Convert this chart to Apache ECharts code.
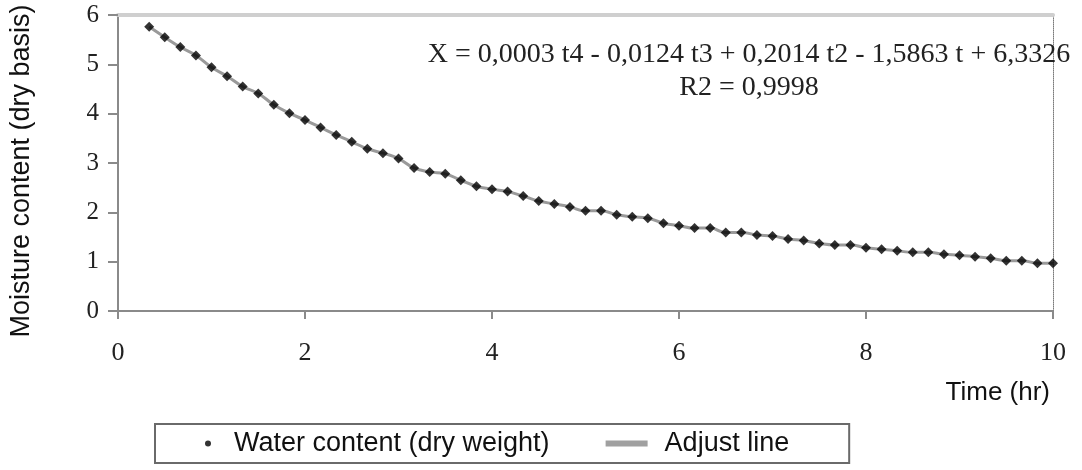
<!DOCTYPE html>
<html>
<head>
<meta charset="utf-8">
<script src="https://cdn.jsdelivr.net/npm/echarts@6/dist/echarts.min.js"></script>
<style>
  html, body { margin: 0; padding: 0; background: #fff; }
  #chart { width: 1082px; height: 470px; }
</style>
</head>
<body>
<div id="chart"></div>
<script>
// sampling times, minutes from start (every 10 min)
const timeMinutes = [
  20, 30, 40, 50, 60, 70, 80, 90, 100, 110,
  120, 130, 140, 150, 160, 170, 180, 190, 200, 210,
  220, 230, 240, 250, 260, 270, 280, 290, 300, 310,
  320, 330, 340, 350, 360, 370, 380, 390, 400, 410,
  420, 430, 440, 450, 460, 470, 480, 490, 500, 510,
  520, 530, 540, 550, 560, 570, 580, 590, 600
]

// moisture content, dry basis
const waterContent = [
  5.76, 5.55, 5.35, 5.18, 4.94, 4.76, 4.55, 4.41, 4.18, 4.01,
  3.87, 3.72, 3.57, 3.43, 3.29, 3.20, 3.09, 2.90, 2.82, 2.78,
  2.65, 2.53, 2.47, 2.42, 2.33, 2.23, 2.17, 2.11, 2.03, 2.03,
  1.95, 1.91, 1.88, 1.78, 1.73, 1.68, 1.68, 1.59, 1.59, 1.54,
  1.52, 1.46, 1.43, 1.37, 1.34, 1.34, 1.28, 1.25, 1.22, 1.19,
  1.19, 1.15, 1.13, 1.10, 1.07, 1.02, 1.02, 0.97, 0.97
]

const xTicks = [0, 2, 4, 6, 8, 10]
const yTicks = [0, 1, 2, 3, 4, 5, 6]

const equationText = 'X = 0,0003 t4 - 0,0124 t3 + 0,2014 t2 - 1,5863 t + 6,3326'
const r2Text = 'R2 = 0,9998'

const points = timeMinutes.map((m, i) => [m / 60, waterContent[i]])

const serif = '"Liberation Serif", "DejaVu Serif", serif'
const sans = '"Liberation Sans", Arial, sans-serif'
const axisGray = '#8a8a8a'

const chart = echarts.init(document.getElementById('chart'))

const option = {
  backgroundColor: '#fff',
  animation: false,
  grid: {
    left: 118,
    right: 29,
    top: 15,
    bottom: 159
  },
  legend: {
    left: 155,
    top: 424,
    orient: 'horizontal',
    padding: [6, 60, 6, 50],
    itemGap: 56,
    itemWidth: 42,
    itemHeight: 6,
    borderColor: '#6a6a6a',
    borderWidth: 2,
    textStyle: {
      fontFamily: sans,
      fontSize: 27,
      color: '#111'
    },
    data: [
      {
        name: 'Water content (dry weight)',
        icon: 'circle'
      },
      {
        name: 'Adjust line',
        icon: 'rect',
        itemStyle: { color: '#a0a0a0' },
        textStyle: { padding: [0, 0, 0, 12] }
      }
    ]
  },
  xAxis: [
    {
      type: 'value',
      min: xTicks[0],
      max: xTicks[xTicks.length - 1],
      interval: 2,
      axisLine: { onZero: false, lineStyle: { color: axisGray, width: 2 } },
      axisTick: { show: true, length: 8, lineStyle: { color: axisGray, width: 2 } },
      axisLabel: {
        margin: 29,
        fontFamily: serif,
        fontSize: 26,
        color: '#222'
      },
      splitLine: { show: false }
    },
    {
      // top border of the plot
      type: 'value',
      position: 'top',
      min: 0,
      max: 10,
      axisLine: { show: true, onZero: false, lineStyle: { color: '#cfcfcf', width: 4 } },
      axisTick: { show: false },
      axisLabel: { show: false },
      splitLine: { show: false }
    }
  ],
  yAxis: [
    {
      type: 'value',
      min: yTicks[0],
      max: yTicks[yTicks.length - 1],
      interval: 1,
      axisLine: { show: true, onZero: false, lineStyle: { color: axisGray, width: 2 } },
      axisTick: { show: true, length: 10, lineStyle: { color: axisGray, width: 2 } },
      axisLabel: {
        margin: 19,
        fontFamily: serif,
        fontSize: 25,
        color: '#222'
      },
      splitLine: { show: false }
    },
    {
      // dotted right border
      type: 'value',
      position: 'right',
      min: 0,
      max: 6,
      axisLine: { show: true, onZero: false, lineStyle: { color: '#7a7a7a', width: 1, type: 'dotted' } },
      axisTick: { show: false },
      axisLabel: { show: false },
      splitLine: { show: false }
    }
  ],
  graphic: [
    {
      type: 'text',
      x: 749,
      y: 55,
      z: 10,
      style: {
        text: equationText,
        fontFamily: serif,
        fontSize: 28,
        fill: '#222',
        align: 'center',
        verticalAlign: 'middle'
      }
    },
    {
      type: 'text',
      x: 749,
      y: 88,
      style: {
        text: r2Text,
        fontFamily: serif,
        fontSize: 28,
        fill: '#222',
        align: 'center',
        verticalAlign: 'middle'
      }
    },
    {
      type: 'text',
      x: 1050,
      y: 393,
      style: {
        text: 'Time (hr)',
        fontFamily: sans,
        fontSize: 26,
        fill: '#111',
        align: 'right',
        verticalAlign: 'middle'
      }
    },
    {
      type: 'text',
      x: 22,
      y: 171,
      rotation: Math.PI / 2,
      style: {
        text: 'Moisture content (dry basis)',
        fontFamily: sans,
        fontSize: 27,
        fill: '#111',
        align: 'center',
        verticalAlign: 'middle'
      }
    }
  ],
  series: [
    {
      name: 'Adjust line',
      type: 'line',
      data: points,
      smooth: true,
      symbol: 'none',
      z: 1,
      lineStyle: { color: '#9a9a9a', width: 3 },
      itemStyle: { color: '#a0a0a0' }
    },
    {
      name: 'Water content (dry weight)',
      type: 'scatter',
      data: points,
      symbol: 'diamond',
      symbolSize: 10,
      z: 3,
      itemStyle: { color: '#000' }
    }
  ]
}

chart.setOption(option)
</script>
</body>
</html>
